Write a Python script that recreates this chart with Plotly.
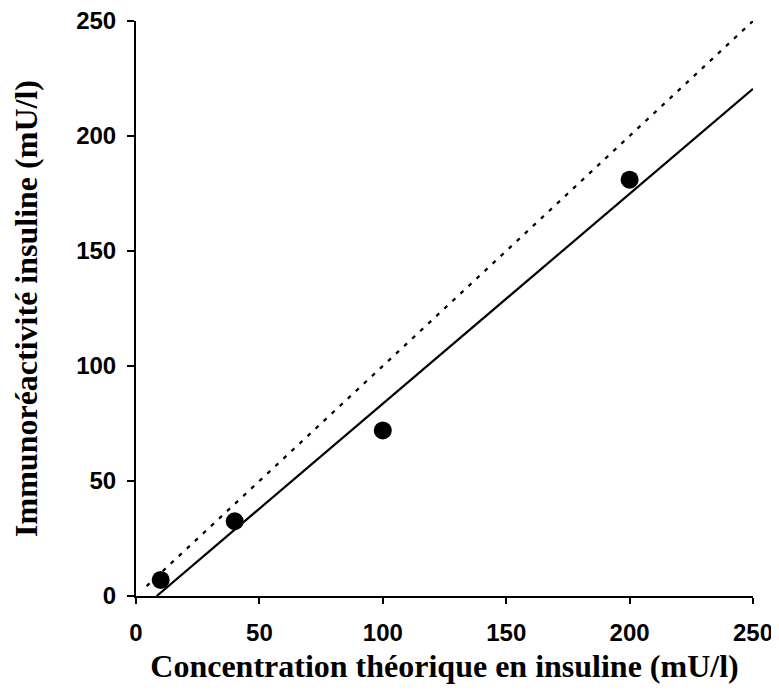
import plotly.graph_objects as go

# Data
conc_theorique = [10, 40, 100, 200]
immunoreactivite = [7, 32.5, 72, 181]

# regression line (read endpoints)
fit_x = [8.4, 250]
fit_y = [0, 220.5]

# identity line y = x (dotted)
ident_x = [4.3, 250]
ident_y = [4.3, 250]

tick_vals = [0, 50, 100, 150, 200, 250]
tick_text = ["0", "50", "100", "150", "200", "250"]

fig = go.Figure()
fig.add_trace(go.Scatter(x=ident_x, y=ident_y, mode="lines",
                         line=dict(color="black", width=2.2, dash="4px,7px"),
                         showlegend=False, hoverinfo="skip"))
fig.add_trace(go.Scatter(x=fit_x, y=fit_y, mode="lines",
                         line=dict(color="black", width=2.2),
                         showlegend=False, hoverinfo="skip"))
fig.add_trace(go.Scatter(x=conc_theorique, y=immunoreactivite, mode="markers",
                         marker=dict(color="black", size=18),
                         showlegend=False, cliponaxis=False))

tick_font = dict(family="Liberation Sans, Arial, sans-serif", size=24, color="black", weight="bold")
title_font = dict(family="Liberation Serif, Times New Roman, serif", size=32, color="black", weight="bold")

# the page body adds an 8 px margin, so the figure is slightly smaller than the window
fig.update_layout(
    width=771, height=682,
    margin=dict(l=128, r=26, t=13, b=94, autoexpand=False),
    paper_bgcolor="white", plot_bgcolor="white",
    xaxis=dict(range=[0, 250], tickvals=tick_vals, ticktext=tick_text, automargin=False,
               showgrid=False, zeroline=False, showline=True, linecolor="black", linewidth=2,
               ticks="outside", ticklen=6, tickwidth=2, tickcolor="black",
               ticklabelstandoff=8, ticklabeloverflow="allow",
               tickfont=tick_font,
               title=dict(text="Concentration théorique en insuline (mU/l)", font=title_font, standoff=10)),
    yaxis=dict(range=[0, 250], tickvals=tick_vals, ticktext=tick_text, automargin=False,
               showgrid=False, zeroline=False, showline=True, linecolor="black", linewidth=2,
               ticks="outside", ticklen=7, tickwidth=2, tickcolor="black",
               ticklabelstandoff=6, ticklabeloverflow="allow",
               tickfont=tick_font,
               title=dict(text="Immunoréactivité insuline (mU/l)", font=title_font, standoff=33)),
)

fig.write_html("out.html")
